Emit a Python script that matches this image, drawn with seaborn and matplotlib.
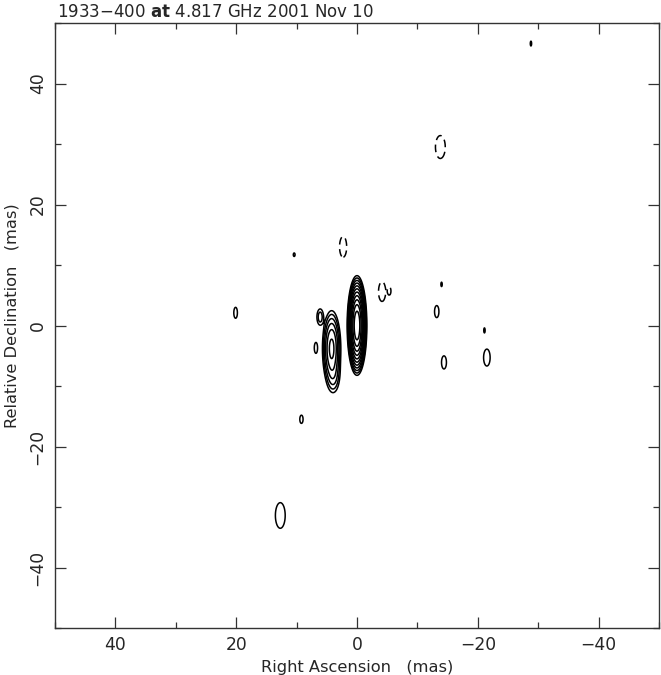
import numpy as np
import matplotlib
matplotlib.use("Agg")
import matplotlib.pyplot as plt
import seaborn as sns

# source components: RA offset, Dec offset (mas),
# gaussian widths (mas) and peak (in units of the lowest contour)
comp_ra = [0.0, 4.2, 3.9, 6.1, 6.8, 20.1, 9.2, 12.7, 10.4, 2.6,
           -13.2, -14.0, -14.4, -21.1, -21.5, -28.8,
           -13.8, 2.3, -4.15, -5.4]
comp_dec = [0.0, -3.8, -8.0, 1.4, -3.7, 2.1, -15.5, -31.4, 11.7, 8.7,
            2.3, 6.8, -6.1, -0.8, -5.3, 46.6,
            29.5, 13.0, 5.6, 5.7]
comp_sra = [0.42, 0.56, 0.55, 0.36, 0.3, 0.33, 0.3, 0.9, 0.2, 0.12,
            0.4, 0.15, 0.45, 0.15, 0.6, 0.15,
            0.9, 0.65, 0.65, 0.25]
comp_sdec = [2.12, 2.3, 1.6, 0.9, 1.0, 1.0, 0.75, 2.35, 0.4, 0.12,
             1.1, 0.5, 1.2, 0.55, 1.55, 0.55,
             2.1, 1.9, 1.8, 0.65]
comp_peak = [1900, 40, 5, 3, 1.5, 1.5, 1.5, 1.5, 1.3, 1.1,
             1.5, 1.3, 1.5, 1.3, 1.5, 1.3,
             -1.5, -1.5, -1.5, -1.3]

contour_levels = [-1, 1, 2, 4, 8, 16, 32, 64, 128, 256, 512, 1024]

title = "1933\u2212400 $\\mathbf{at}$ 4.817 GHz 2001 Nov 10"

ra = np.arange(-50, 50.001, 0.05)
dec = np.arange(-50, 50.001, 0.05)
RA, DEC = np.meshgrid(ra, dec)
img = np.zeros_like(RA)
for x0, y0, sx, sy, p in zip(comp_ra, comp_dec, comp_sra, comp_sdec, comp_peak):
    img += p * np.exp(-((RA - x0) ** 2 / (2 * sx ** 2) + (DEC - y0) ** 2 / (2 * sy ** 2)))

sns.set_style("ticks")
plt.rcParams["font.family"] = ["DejaVu Sans"]
plt.rcParams["mathtext.fontset"] = "dejavusans"

fig = plt.figure(figsize=(6.61, 6.75), dpi=100)
ax = fig.add_axes([55 / 661, 1 - 628 / 675, 604 / 661, 605 / 675])

styles = [(0, (5, 3)) if l < 0 else "solid" for l in contour_levels]
ax.contour(RA, DEC, img, levels=contour_levels, colors="black",
           linewidths=1.1, linestyles=styles)

ax.set_xlim(50, -50)
ax.set_ylim(-50, 50)
ax.set_xticks([40, 20, 0, -20, -40])
ax.set_yticks([-40, -20, 0, 20, 40])
ax.set_xticks(np.arange(-50, 51, 10), minor=True)
ax.set_yticks(np.arange(-50, 51, 10), minor=True)
ax.tick_params(which="both", direction="in", top=True, right=True,
               labelsize=12.3, color="#333333", width=0.9, pad=6)
ax.tick_params(which="major", length=8)
ax.tick_params(which="minor", length=4)
for lab in ax.get_yticklabels():
    lab.set_rotation(90)
    lab.set_va("center")
for s in ax.spines.values():
    s.set_linewidth(1.0)
    s.set_color("#333333")

ax.set_xlabel("Right Ascension   (mas)", fontsize=11.7, labelpad=4)
ax.set_ylabel("Relative Declination   (mas)", fontsize=11.7)
ax.yaxis.set_label_coords(-0.058, 0.517)
fig.text(57 / 661, 1 - 3 / 675, title, fontsize=12, ha="left", va="top")

fig.savefig("out.png", dpi=100, facecolor="white")
